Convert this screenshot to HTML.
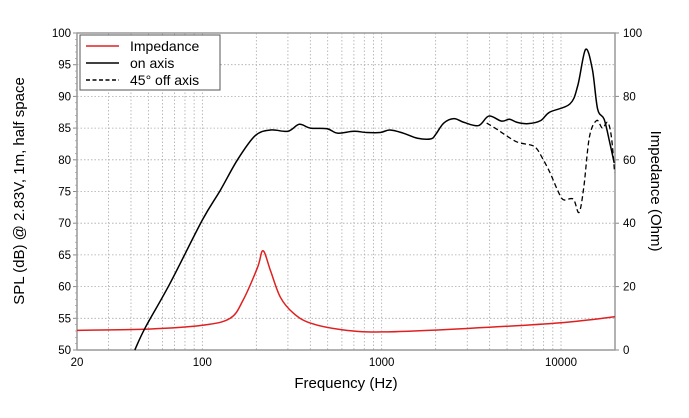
<!DOCTYPE html>
<html><head><meta charset="utf-8"><style>
body{margin:0;background:#fff;}
svg{font-family:"Liberation Sans",Arial,sans-serif;}
</style></head><body>
<svg id="chart" width="689" height="413" viewBox="0 0 689 413" xmlns="http://www.w3.org/2000/svg">
<g id="grid"></g>
<g id="axes"></g>
<g id="series"></g>
<text x="346" y="388" font-size="15" text-anchor="middle">Frequency (Hz)</text>
<text transform="translate(24,191) rotate(-90)" font-size="15" text-anchor="middle">SPL (dB) @ 2.83V, 1m, half space</text>
<text transform="translate(651,191) rotate(90)" font-size="15" text-anchor="middle">Impedance (Ohm)</text>
<g>
<rect x="80" y="35" width="140" height="55" fill="#fff" stroke="#555" stroke-width="1"/>
<line x1="86" y1="46" x2="119" y2="46" stroke="#e02020" stroke-width="1.5"/>
<text x="130" y="51" font-size="14">Impedance</text>
<line x1="86" y1="63" x2="119" y2="63" stroke="#000" stroke-width="1.5"/>
<text x="130" y="68" font-size="14">on axis</text>
<line x1="86" y1="80" x2="119" y2="80" stroke="#000" stroke-width="1.5" stroke-dasharray="4,2.5"/>
<text x="130" y="85" font-size="14">45° off axis</text>
</g>
</svg>
<script>
const onAxisFreq=[42,48,66,100,126,157,197,240,300,347,400,496,568,698,826,980,1112,1320,1585,1880,2000,2220,2530,2880,3470,3960,4660,5160,5700,6560,7720,8630,11200,12400,13700,14950,16000,17400,18700,19800];
const onAxisSPL=[50,53.5,60.5,70.5,75.2,80,83.8,84.7,84.5,85.6,85,84.9,84.2,84.5,84.3,84.3,84.7,84.2,83.4,83.3,84,85.8,86.5,85.9,85.4,86.9,86.1,86.4,85.9,85.7,86.2,87.5,88.8,91.7,97.4,94.3,88,86.4,82.7,79.5];
const offAxisFreq=[3850,4400,4840,5700,6850,7300,7720,8640,9570,10300,11700,12600,13400,14400,15800,17000,18200,19100,19900];
const offAxisSPL=[85.8,84.8,84,82.8,82.3,81.8,80.7,78.1,75.2,73.7,73.8,71.7,75.7,83.6,86.2,85,85.9,83.6,78];
const impFreq=[20,50,100,143,169,203,218,240,272,322,400,600,1000,3000,10000,20000];
const impOhm=[6.2,6.6,7.8,10,15.8,26,31.3,25,16.7,11.6,8.5,6.4,5.7,6.8,8.6,10.5];
const xTicks=[20,100,1000,10000];
const yTicksL=[50,55,60,65,70,75,80,85,90,95,100];
const yTicksR=[0,20,40,60,80,100];
const X0=77,X1=615,Y0=350,Y1=33;
const lmin=Math.log10(20),lmax=Math.log10(20000);
const xs=f=>X0+(Math.log10(f)-lmin)/(lmax-lmin)*(X1-X0);
const ysL=v=>Y0-(v-50)/50*(Y0-Y1);
const ysR=v=>Y0-v/100*(Y0-Y1);
const NS="http://www.w3.org/2000/svg";
function mk(tag,attrs,parent){const e=document.createElementNS(NS,tag);for(const k in attrs)e.setAttribute(k,attrs[k]);parent.appendChild(e);return e;}
const grid=document.getElementById('grid'),axes=document.getElementById('axes'),series=document.getElementById('series');
for(let d=10;d<=10000;d*=10){for(let m=1;m<=9;m++){const f=d*m;if(f<20||f>20000)continue;const x=xs(f);
const g=mk('line',{x1:x,x2:x,y1:Y1,y2:Y0,stroke:'#aaa','stroke-width':0.8,'stroke-dasharray':'1.5,2'},grid);

}}
yTicksL.forEach(v=>{const y=ysL(v);const g=mk('line',{x1:X0,x2:X1,y1:y,y2:y,stroke:'#aaa','stroke-width':0.8,'stroke-dasharray':'1.5,2'},grid);


const t=mk('text',{x:X0-6,y:y+4,'font-size':11.5,'text-anchor':'end'},axes);t.textContent=v;


mk('line',{x1:X0-4,x2:X0,y1:y,y2:y,stroke:'#888'},axes);});
for(let v=50;v<=100;v++){const y=ysL(v);mk('line',{x1:X0-2,x2:X0,y1:y,y2:y,stroke:'#999','stroke-width':0.7},axes);}
yTicksR.forEach(v=>{const y=ysR(v);const t=mk('text',{x:X1+8,y:y+4,'font-size':11.5},axes);t.textContent=v;


mk('line',{x1:X1,x2:X1+4,y1:y,y2:y,stroke:'#888'},axes);});
xTicks.forEach(f=>{const t=mk('text',{x:xs(f),y:Y0+16,'font-size':11.5,'text-anchor':'middle'},axes);t.textContent=f;

});
const fr=mk('rect',{x:X0,y:Y1,width:X1-X0,height:Y0-Y1,fill:'none',stroke:'#999','stroke-width':1.5},axes);


function pathFrom(fs,vs,ys){const p=fs.map((f,i)=>[xs(f),ys(vs[i])]);let d='M'+p[0][0]+','+p[0][1];
for(let i=0;i<p.length-1;i++){const p0=p[Math.max(0,i-1)],p1=p[i],p2=p[i+1],p3=p[Math.min(p.length-1,i+2)];
const c1=[p1[0]+(p2[0]-p0[0])/6,p1[1]+(p2[1]-p0[1])/6],c2=[p2[0]-(p3[0]-p1[0])/6,p2[1]-(p3[1]-p1[1])/6];
d+=` C${c1[0]},${c1[1]} ${c2[0]},${c2[1]} ${p2[0]},${p2[1]}`;}return d;}
const imp=mk('path',{d:pathFrom(impFreq,impOhm,ysR),fill:'none',stroke:'#e02020','stroke-width':1.5},series);


const on=mk('path',{d:pathFrom(onAxisFreq,onAxisSPL,ysL),fill:'none',stroke:'#000','stroke-width':1.5},series);


const off=mk('path',{d:pathFrom(offAxisFreq,offAxisSPL,ysL),fill:'none',stroke:'#000','stroke-width':1.3,'stroke-dasharray':'5,3'},series);


</script>
</body></html>
